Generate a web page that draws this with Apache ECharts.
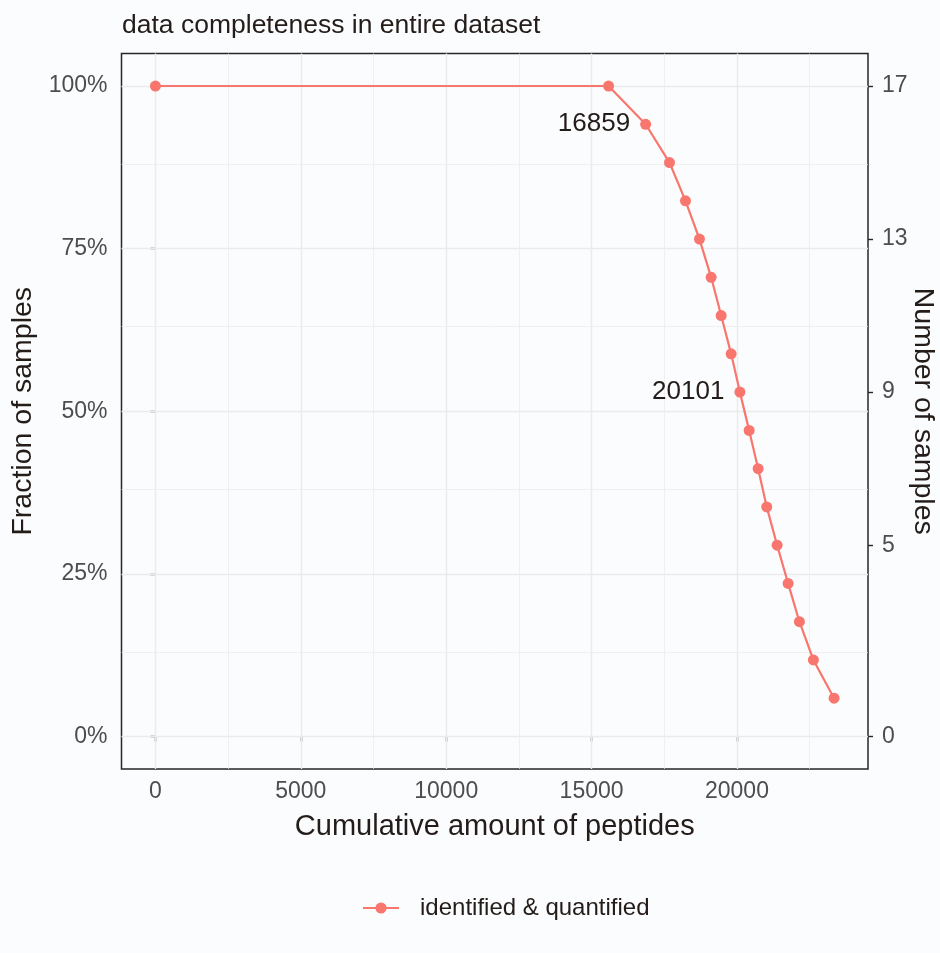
<!DOCTYPE html>
<html>
<head>
<meta charset="utf-8">
<script src="https://cdn.jsdelivr.net/npm/echarts@6/dist/echarts.min.js"></script>
<style>
  html, body { margin: 0; padding: 0; background: #fbfcfe; }
  #chart { width: 940px; height: 953px; }
</style>
</head>
<body>
<div id="chart"></div>
<script>
// Cumulative peptide counts and the number of samples each count is found in
const peptides = [0, 15584, 16859, 17680, 18230, 18711, 19113, 19457, 19800, 20101, 20419, 20729, 21024, 21381, 21759, 22148, 22629, 23340];
const samples = [17, 17, 16, 15, 14, 13, 12, 11, 10, 9, 8, 7, 6, 5, 4, 3, 2, 1];
const totalSamples = 17;
const labelledPeptides = [16859, 20101];

// Axis ticks and grid positions
const xTicks = [0, 5000, 10000, 15000, 20000];
const xMinorGrid = [2500, 7500, 12500, 17500, 22500];
const fractionTicks = [0, 0.25, 0.5, 0.75, 1];
const fractionMinorGrid = [0.125, 0.375, 0.625, 0.875];
const sampleTicks = [0, 5, 9, 13, 17];

const xMin = -1167, xMax = 24507;
const fMin = -0.05, fMax = 1.05;

const FONT = 'Liberation Sans, Arial, sans-serif';
const TEXT = '#231c19';
const TICKTEXT = '#4d4d4d';
const RED = '#F8766D';
const FRAME = '#262626';

const chart = echarts.init(document.getElementById('chart'), null, { renderer: 'canvas' });

const majorGrid = { color: '#ebebeb', width: 1.4, type: 'solid', opacity: 1 };
const minorGrid = { color: '#ebebeb', width: 0.7, type: 'solid', opacity: 1 };

const gridLines = []
  .concat(xTicks.map(v => ({ xAxis: v, lineStyle: majorGrid })))
  .concat(xMinorGrid.map(v => ({ xAxis: v, lineStyle: minorGrid })))
  .concat(fractionTicks.map(v => ({ yAxis: v, lineStyle: majorGrid })))
  .concat(fractionMinorGrid.map(v => ({ yAxis: v, lineStyle: minorGrid })));

const tickStyle = { show: true, inside: false, length: 5, lineStyle: { color: FRAME, width: 1.4 } };

chart.setOption({
  animation: false,
  backgroundColor: '#fbfcfe',
  textStyle: { fontFamily: FONT },
  title: {
    text: 'data completeness in entire dataset',
    left: 117, top: 7,
    textStyle: { fontFamily: FONT, fontSize: 26.5, fontWeight: 'normal', color: TEXT }
  },
  grid: {
    left: 121.5, right: 72, top: 53.5, bottom: 184,
    outerBoundsMode: 'none', containLabel: false,
    show: true, borderColor: FRAME, borderWidth: 1.5, backgroundColor: 'transparent'
  },
  legend: {
    left: 362, top: 896, padding: 0,
    itemWidth: 36, itemHeight: 14,
    data: ['identified & quantified'],
    textStyle: { fontFamily: FONT, fontSize: 24, color: TEXT, padding: [0, 0, 0, 16] }
  },
  xAxis: {
    type: 'value', min: xMin, max: xMax,
    name: 'Cumulative amount of peptides', nameLocation: 'middle', nameGap: 43, nameMoveOverlap: false,
    nameTextStyle: { fontFamily: FONT, fontSize: 29, color: TEXT },
    axisLine: { show: false },
    axisTick: Object.assign({ customValues: xTicks }, tickStyle),
    axisLabel: {
      customValues: xTicks, margin: 11, fontFamily: FONT, fontSize: 23, color: TICKTEXT,
      formatter: v => String(v)
    },
    splitLine: { show: false }
  },
  yAxis: [
    {
      type: 'value', min: fMin, max: fMax, position: 'left',
      name: 'Fraction of samples', nameLocation: 'middle', nameGap: 84, nameRotate: 90, nameMoveOverlap: false,
      nameTextStyle: { fontFamily: FONT, fontSize: 28.5, color: TEXT },
      axisLine: { show: false },
      axisTick: Object.assign({ customValues: fractionTicks }, tickStyle),
      axisLabel: {
        customValues: fractionTicks, margin: 14, fontFamily: FONT, fontSize: 23, color: TICKTEXT,
        formatter: v => Math.round(v * 100) + '%'
      },
      splitLine: { show: false }
    },
    {
      type: 'value', min: fMin * totalSamples, max: fMax * totalSamples, position: 'right',
      name: 'Number of samples', nameLocation: 'middle', nameGap: 40, nameRotate: -90, nameMoveOverlap: false,
      nameTextStyle: { fontFamily: FONT, fontSize: 28.5, color: TEXT },
      axisLine: { show: false },
      axisTick: Object.assign({ customValues: sampleTicks }, tickStyle),
      axisLabel: { customValues: sampleTicks, margin: 14, fontFamily: FONT, fontSize: 23, color: TICKTEXT },
      splitLine: { show: false }
    }
  ],
  series: [
    {
      // panel grid lines, drawn beneath the data
      name: 'grid', type: 'line', yAxisIndex: 0, data: [], z: 1, silent: true,
      markLine: {
        z: 1, silent: true, symbol: ['none', 'none'], symbolSize: 0, label: { show: false },
        emphasis: { disabled: true }, animation: false, data: gridLines
      }
    },
    {
      name: 'identified & quantified', type: 'line', yAxisIndex: 1, z: 3,
      data: peptides.map((p, i) => [p, samples[i]]),
      symbol: 'circle', symbolSize: 11,
      itemStyle: { color: RED },
      lineStyle: { color: RED, width: 2.2 },
      label: {
        show: true, position: 'left', distance: 10,
        fontFamily: FONT, fontSize: 26, color: TEXT,
        formatter: p => labelledPeptides.includes(p.value[0]) ? String(p.value[0]) : ''
      }
    }
  ]
});
</script>
</body>
</html>
